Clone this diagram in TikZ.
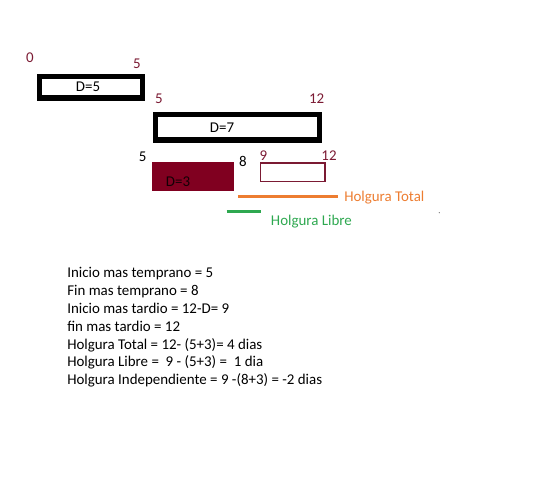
\documentclass[tikz,border=0pt]{standalone}
\usepackage{fontspec}
\setmainfont{Carlito}
\usetikzlibrary{positioning,calc}

\definecolor{vino}{HTML}{800020}
\definecolor{granate}{HTML}{7B1A33}
\definecolor{naranja}{HTML}{ED7D31}
\definecolor{verde}{HTML}{2EA850}

\begin{document}
\begin{tikzpicture}[
    x=0.75pt, y=-0.75pt,
    every node/.style={font=\fontsize{11.2}{13.4}\selectfont},
    actbox/.style={draw=black, line width=4.1pt, fill=white, inner sep=0pt},
    holgbox/.style={draw=granate, line width=1.1pt, fill=white, inner sep=0pt},
    fillbox/.style={fill=vino, inner sep=0pt},
    tiempo/.style={text=granate, inner sep=0pt},
    tiempoN/.style={text=black, inner sep=0pt},
    holgura/.style={line width=2.25pt}
  ]
    \useasboundingbox (0,0) rectangle (549,494);

    % Actividades
    \node[actbox, minimum width=77.3pt, minimum height=16pt] (act1) at (91,87.3) {};
    \node[inner sep=0pt] (d1) at (88,87) {D=5};
    \node[actbox, minimum width=122.7pt, minimum height=19.1pt] (act2) at (237.5,127.2) {};
    \node[inner sep=0pt] (d2) at (222,128) {D=7};
    \node[fillbox, minimum width=61.7pt, minimum height=21.3pt] (act3) at (193.2,176.5) {};
    \node[inner sep=0pt, text=black!85!vino] (d3) at (178,181.5) {D=3};
    \node[holgbox, minimum width=48.2pt, minimum height=13.9pt] (tard) at (292.8,172.3) {};

    % Tiempos
    \node[tiempo] (t0) at (30,57.5) {0};
    \node[tiempo] (t5a) at (137,63.5) {5};
    \node[tiempo] (t5b) at (159,98.5) {5};
    \node[tiempo] (t12a) at (316.7,98.5) {12};
    \node[tiempoN] (t5c) at (142.7,157) {5};
    \node[tiempoN] (t8) at (243,161.5) {8};
    \node[tiempo] (t9) at (263.3,155.5) {9};
    \node[tiempo] (t12b) at (329,155.5) {12};

    % Holguras
    \coordinate (htA) at (238.3,196.7);
    \coordinate (htB) at (337.7,196.7);
    \draw[holgura, naranja] (htA) -- (htB);
    \node[anchor=west, inner sep=0pt, text=naranja] (htot) at (344,197.5) {Holgura Total};
    \coordinate (hlA) at (226.7,211);
    \coordinate (hlB) at (260.7,211);
    \draw[holgura, verde] (hlA) -- (hlB);
    \node[anchor=west, inner sep=0pt, text=verde] (hlib) at (270.7,222) {Holgura Libre};
    \fill[gray] (439.3,212.7) circle (0.5pt);

    % Resumen
    \node[anchor=north west, align=left, inner sep=0pt] (resumen) at (67,267) {
      Inicio mas temprano = 5\\
      Fin mas temprano = 8\\
      Inicio mas tardio = 12-D= 9\\
      fin mas tardio = 12\\
      Holgura Total = 12- (5+3)= 4 dias\\
      Holgura Libre =~~9 - (5+3) =~~1 dia\\
      Holgura Independiente = 9 -(8+3) = -2 dias
    };
  \end{tikzpicture}
\end{document}
